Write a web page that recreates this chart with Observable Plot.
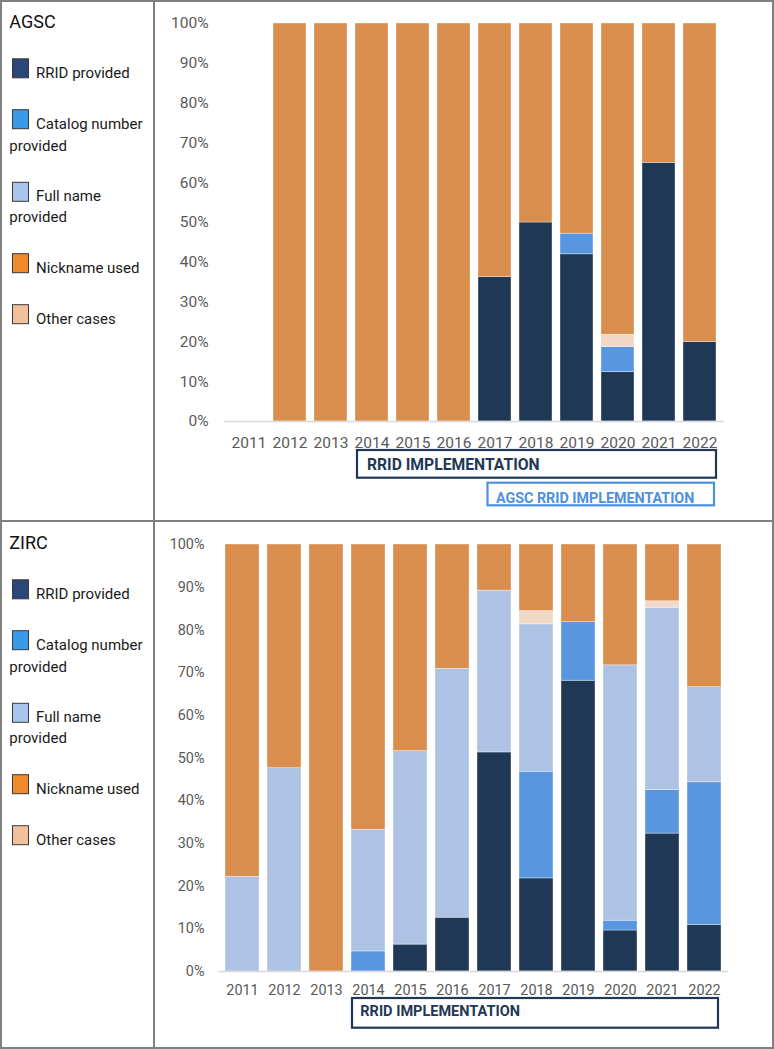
<!DOCTYPE html>
<html>
<head>
<meta charset="utf-8">
<script src="https://cdn.jsdelivr.net/npm/d3@7"></script>
<script src="https://cdn.jsdelivr.net/npm/@observablehq/plot@0.6"></script>
<style>
html, body { margin: 0; padding: 0; background: #fff; }
#page { position: relative; width: 774px; height: 1049px; overflow: hidden; font-family: Roboto, sans-serif; background: #fff; }
#page > svg, #page > .abs { position: absolute; }
</style>
</head>
<body>
<div id="page"></div>
<script>
// ---------- DATA ----------
const years = ["2011","2012","2013","2014","2015","2016","2017","2018","2019","2020","2021","2022"];
const categories = ["RRID provided","Catalog number provided","Full name provided","Other cases","Nickname used"];
const legendLabels = [["RRID provided"],["Catalog number","provided"],["Full name","provided"],["Nickname used"],["Other cases"]];
const legendCategories = ["RRID provided","Catalog number provided","Full name provided","Nickname used","Other cases"];
const yTickLabels = [0,10,20,30,40,50,60,70,80,90,100];

// AGSC (percent of papers per year)
const agscRRID    = [0,  0,  0,  0,  0,  0, 36.3, 50, 42.0, 12.4, 65, 20];
const agscCatalog = [0,  0,  0,  0,  0,  0,  0,    0,  5.2,  6.3,  0,  0];
const agscFull    = [0,  0,  0,  0,  0,  0,  0,    0,  0,    0,    0,  0];
const agscOther   = [0,  0,  0,  0,  0,  0,  0,    0,  0,    3.1,  0,  0];
const agscNick    = [0,100,100,100,100,100, 63.7, 50, 52.8, 78.2, 35, 80];

// ZIRC
const zircRRID    = [0,    0,    0,   0,    6.3, 12.6, 51.3, 21.8, 68.1,  9.6, 32.3, 10.9];
const zircCatalog = [0,    0,    0,   4.7,  0,    0,    0,   25.0, 13.7,  2.3, 10.2, 33.4];
const zircFull    = [22.2, 47.6, 0,  28.5, 45.3, 58.3, 37.9, 34.5,  0,   59.8, 42.7, 22.3];
const zircOther   = [0,    0,    0,   0,    0,    0,    0,    3.1,  0,    0,    1.5,  0];
const zircNick    = [77.8, 52.4,100, 66.8, 48.4, 29.1, 10.8, 15.6, 18.2, 28.3, 13.3, 33.4];

const barColors = ["#1f3855","#5897e0","#aec3e3","#f1d8c6","#d98e4e"];
const legendColors = {"RRID provided":"#2b4777","Catalog number provided":"#3b99ea","Full name provided":"#a9c5eb","Nickname used":"#f0892b","Other cases":"#f3c09c"};

function toRows(seriesList) {
  const rows = [];
  categories.forEach((cat, i) => {
    years.forEach((year, j) => rows.push({year, cat, value: seriesList[i][j]}));
  });
  return rows;
}

const page = d3.select("#page");

// ---------- CHART ----------
function chart(opts) {
  const data = toRows(opts.series);
  const plot = Plot.plot({
    width: 620, height: opts.height,
    marginLeft: opts.ml, marginRight: opts.mr, marginTop: opts.mt, marginBottom: opts.mb,
    style: {fontFamily: "Roboto, sans-serif", fontSize: opts.fs + "px", color: "#595959", background: "white"},
    x: {domain: years, paddingInner: 0.2, paddingOuter: 0.1, axis: null},
    y: {domain: [0, 1], axis: null},
    color: {domain: categories, range: barColors},
    marks: [
      Plot.barY(data, {x: "year", y: d => d.value / 100, fill: "cat", order: categories, stroke: "white", strokeOpacity: 0.6, strokeWidth: 0.6}),
      Plot.ruleY([0], {stroke: "#d9d9d9", strokeWidth: 1.5}),
      Plot.axisY(yTickLabels.map(v => v / 100), {tickSize: 0, tickPadding: opts.padY, tickFormat: d => Math.round(d * 100) + "%", fill: "#595959", label: null}),
      Plot.axisX({tickSize: 0, tickPadding: opts.padX, fill: "#595959", label: null})
    ]
  });
  plot.style.left = "154px";
  plot.style.top = opts.top + "px";
  plot.style.position = "absolute";
  document.getElementById("page").appendChild(plot);

  const xs = plot.scale("x");
  const bw = xs.bandwidth;
  const svg = d3.select(plot);
  opts.boxes.forEach(b => {
    const x0 = xs.apply(b.from) + b.dx0;
    const x1 = xs.apply(b.to) + bw + b.dx1;
    const g = svg.append("g").attr("text-anchor", "start");
    g.append("rect").attr("x", x0).attr("y", b.y0).attr("width", x1 - x0).attr("height", b.y1 - b.y0)
      .attr("fill", "white").attr("stroke", b.color).attr("stroke-width", 2.2);
    g.append("text").attr("x", x0 + b.tx).attr("y", b.base).text(b.label)
      .attr("text-anchor", "start")
      .attr("fill", b.color).attr("font-weight", 700).attr("font-size", b.fs + "px")
      .attr("font-family", "Roboto, sans-serif");
  });
}

chart({
  series: [agscRRID, agscCatalog, agscFull, agscOther, agscNick],
  top: 0, height: 520, ml: 70, mr: 50, mt: 23, mb: 99, fs: 15.5, padY: 16, padX: 15,
  boxes: [
    {label: "RRID IMPLEMENTATION", from: "2014", to: "2022", dx0: 2, dx1: 0, y0: 450, y1: 477.7, base: 470, tx: 10, fs: 15.7, color: "#1f3855"},
    {label: "AGSC RRID IMPLEMENTATION", from: "2017", to: "2022", dx0: 9.5, dx1: -2, y0: 482.7, y1: 505.3, base: 503.3, tx: 8.5, fs: 14.3, color: "#4d90e0"}
  ]
});

chart({
  series: [zircRRID, zircCatalog, zircFull, zircOther, zircNick],
  top: 521, height: 528, ml: 64, mr: 46, mt: 23, mb: 78, fs: 14.4, padY: 14, padX: 13.2,
  boxes: [
    {label: "RRID IMPLEMENTATION", from: "2014", to: "2022", dx0: 1, dx1: -3, y0: 477, y1: 506.7, base: 495, tx: 8.3, fs: 14.5, color: "#1f3855"}
  ]
});

// ---------- LEGENDS ----------
function legend(title, offset) {
  const svg = page.append("svg").attr("width", 154).attr("height", 528)
    .style("left", "0px").style("top", offset + "px")
    .attr("font-family", "Roboto, sans-serif");
  svg.append("text").attr("x", 9.3).attr("y", 28.3).attr("font-size", "18px").attr("fill", "#111").text(title);
  const swatchTops = [58.3, 109.2, 181.8, 253.2, 304.2];
  const baselines = [78.3, 129.3, 201, 272.7, 323.8];
  legendCategories.forEach((cat, i) => {
    svg.append("rect").attr("x", 12.5).attr("y", swatchTops[i] + 0.5).attr("width", 16).attr("height", 19)
      .attr("fill", legendColors[cat]).attr("stroke", "#3a3a3a").attr("stroke-width", 1);
    const lines = legendLabels[i];
    lines.forEach((ln, k) => {
      svg.append("text").attr("x", k === 0 ? 36 : 9.3).attr("y", baselines[i] + k * 21.3)
        .attr("font-size", "15px").attr("fill", "#1a1a1a").text(ln);
    });
  });
}
legend("AGSC", 0);
legend("ZIRC", 521.3);

// ---------- PANEL BORDERS ----------
const ov = page.append("svg").attr("width", 774).attr("height", 1049).style("left", "0px").style("top", "0px").style("pointer-events", "none");
ov.append("rect").attr("x", 1).attr("y", 1).attr("width", 772).attr("height", 1047).attr("fill", "none").attr("stroke", "#808080").attr("stroke-width", 2);
ov.append("line").attr("x1", 154).attr("x2", 154).attr("y1", 0).attr("y2", 1049).attr("stroke", "#808080").attr("stroke-width", 2);
ov.append("line").attr("x1", 0).attr("x2", 774).attr("y1", 521).attr("y2", 521).attr("stroke", "#808080").attr("stroke-width", 2);
</script>
</body>
</html>
